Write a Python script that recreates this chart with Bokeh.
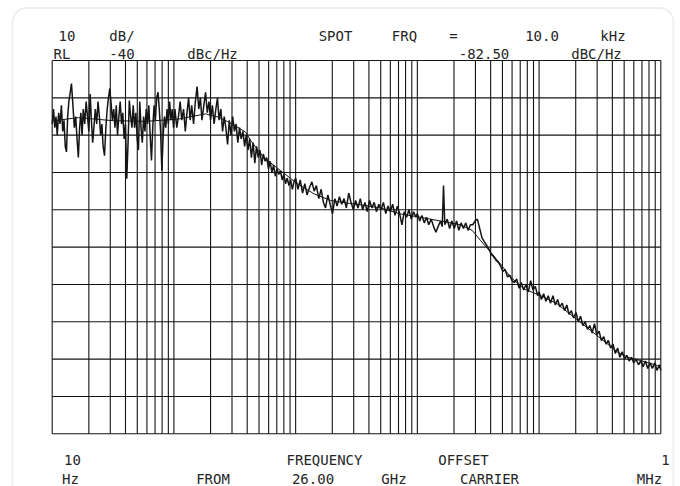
from bokeh.plotting import figure
from bokeh.models import BoxAnnotation, Range1d
from bokeh.core.properties import value
from bokeh.embed import file_html
from bokeh.resources import INLINE

# ---------------- data ----------------
# raw (noisy) phase-noise trace: offset frequency in Hz, level in dBc/Hz
noise_freq = [
    # 10 Hz - 100 Hz
    10.0, 10.25, 10.5, 10.75, 11.0, 11.3, 11.6, 11.9, 12.2, 12.5, 12.8, 13.1, 13.4,
    13.7, 14.0, 14.4, 14.8, 15.2, 15.6, 16.0, 16.4, 16.8, 17.2, 17.6, 18.0, 18.5,
    19.0, 19.5, 20.0, 20.5, 21.0, 21.5, 22.0, 22.6, 23.2, 23.8, 24.4, 25.0, 25.6,
    26.2, 26.9, 27.6, 28.3, 29.0, 29.7, 30.4, 31.2, 32.0, 32.8, 33.6, 34.4, 35.3,
    36.2, 37.1, 38.0, 39.0, 40.0, 41.0, 42.0, 43.0, 44.1, 45.2, 46.3, 47.5, 48.7,
    49.9, 51.1, 52.4, 53.7, 55.0, 56.4, 57.8, 59.2, 60.7, 62.2, 63.8, 65.4, 67.0,
    68.7, 70.4, 72.2, 74.0, 75.8, 77.7, 79.6, 81.6, 83.6, 85.7, 87.8, 90.0, 92.2,
    94.5, 96.9, 99.3,
    # 100 Hz - 1 kHz
    102, 105.5, 109, 112.5, 116, 120, 124, 128, 132, 136, 140, 145, 150, 155, 160,
    165, 170, 176, 182, 188, 194, 200, 207, 214, 221, 228, 235, 243, 251, 259, 267,
    276, 285, 294, 304, 314, 324, 335, 346, 357, 369, 381, 393, 406, 419, 433, 447,
    462, 477, 493, 509, 526, 543, 561, 579, 598, 618, 638, 659, 681, 703, 726, 750,
    775, 800, 826, 853, 881, 910, 940, 970,
    # 1 kHz - 10 kHz
    1000, 1045, 1090, 1140, 1190, 1240, 1300, 1360, 1420, 1480, 1550, 1620, 1690,
    1760, 1840, 1920, 2010, 2100, 2190, 2290, 2390, 2500, 2610, 2730, 2850, 2980,
    3110, 3250, 3400, 3550, 3710, 3870, 4050, 4230, 4420, 4610, 4820, 5040, 5260,
    5500, 5740, 6000, 6270, 6550, 6850, 7150, 7470, 7810, 8160, 8530, 8910, 9310,
    9730,
    # 10 kHz - 100 kHz
    10000, 10450, 10900, 11400, 11900, 12400, 13000, 13600, 14200, 14800, 15500,
    16000, 16400, 16800, 17600, 18400, 19200, 20100, 21000, 21900, 22900, 23900,
    25000, 26100, 27300, 28500, 29800, 31100, 32500, 34000, 35500, 37100, 38700,
    40500, 42300, 44200, 46100, 48200, 50400, 52600, 55000, 57400, 60000, 62700,
    65500, 68500, 71500, 74700, 78100, 81600, 85300, 89100, 93100, 97300,
    # 100 kHz - 1 MHz
    100000, 104500, 109000, 114000, 119000, 124000, 130000, 136000, 142000, 148000,
    155000, 162000, 169000, 176000, 184000, 192000, 201000, 210000, 219000, 229000,
    239000, 250000, 261000, 273000, 285000, 298000, 311000, 325000, 340000, 355000,
    371000, 387000, 405000, 423000, 442000, 461000, 482000, 504000, 526000, 550000,
    574000, 600000, 627000, 655000, 685000, 715000, 747000, 781000, 816000, 853000,
    891000, 931000, 973000, 1000000,
]
noise_db = [
    # 10 Hz - 100 Hz
    -57, -53, -58, -55, -60, -54, -57, -52, -59, -56, -63, -64.5, -55,
    -51, -49, -46.2, -52, -58, -55, -61, -66, -58, -54, -60, -53, -57,
    -51, -55, -59, -49, -56, -62, -58, -53, -57, -51, -55, -60, -57,
    -63, -65.5, -58, -53, -50, -47.5, -51, -56, -53, -58, -52, -60, -55,
    -51, -57, -54, -61, -57, -71.7, -62, -50.7, -55, -58, -52, -58, -54,
    -61, -64, -51, -58, -62, -55, -59, -53, -57, -52, -60, -66.8, -58,
    -52, -56, -50, -48.5, -53, -59, -69.5, -60, -55, -58, -53, -57, -51,
    -56, -53, -58,
    # 100 Hz - 1 kHz
    -53, -58, -55, -51, -56, -53, -59, -54, -50, -56, -52, -57, -51, -47, -53,
    -50, -56, -52, -48.5, -54, -51, -56, -52, -57, -53, -50, -56, -53, -59, -55, -58,
    -62.5, -56, -60, -55, -59, -57, -62, -58, -61, -59, -63, -60, -64, -61, -66, -62,
    -67.5, -63, -66, -64, -68, -65, -67, -66, -69, -67, -70, -68, -71, -69, -70.5, -69.5,
    -72, -70.5, -73, -71.5, -73.5, -72, -74.5, -72.5,
    # 1 kHz - 10 kHz
    -71.5, -74.5, -72, -75.5, -73, -76, -74, -72.5, -75, -73.5, -77, -74.5, -78,
    -79.5, -76, -78.5, -81, -77, -79, -76.5, -78.5, -77, -79.5, -75.5, -78, -80,
    -77.5, -79.5, -77, -80, -78, -80.5, -77.5, -79.5, -78, -80.5, -78.5, -80, -78,
    -81, -79, -80.5, -78.5, -81.5, -79, -81, -84, -80.5, -82, -80, -82.5, -80.5,
    -82,
    # 10 kHz - 100 kHz
    -81, -83, -81.5, -83.5, -82, -84, -82.5, -84.5, -86, -84.5, -83,
    -84.5, -73.5, -84, -82.5, -85, -83, -85, -83, -85.5, -83.5, -85,
    -83.5, -85.5, -84, -84, -83, -82.5, -85, -87.5, -88.5, -89.5, -90.5,
    -92, -92.5, -93.5, -94, -95, -96.5, -96, -98, -97.5, -99, -99.5,
    -98.5, -101, -99.5, -101.5, -100, -102, -99, -101.5, -100.5, -103,
    # 100 kHz - 1 MHz
    -102, -104, -102.5, -104.5, -103, -105, -103, -105.5, -104, -106,
    -105, -107, -105.5, -108, -107, -109, -107.5, -110, -108.5, -111,
    -110, -112, -111, -113, -110.5, -113.5, -112.5, -115, -114, -116,
    -115, -117, -116, -118.5, -117, -119.5, -118, -120, -119, -120.5,
    -119.5, -121, -120, -121.5, -120.5, -122, -120.5, -122.5, -121, -122.5,
    -121, -123, -121.5, -123,
]

# smoothed trace
smooth_freq = [10, 16.4, 31, 58.5, 109, 182, 233, 303, 388, 428, 548, 752, 1033,
               1413, 1937, 2660, 3640, 4990, 7260, 10600, 15500, 22600, 28200,
               33000, 39900, 48200, 58200, 75200, 103000, 141000, 194000, 265000,
               364000, 440000, 532000, 686000, 940000, 1000000]
smooth_db = [-56.2, -55.3, -56.1, -56.3, -55.7, -54.3, -55.2, -57, -59.2, -61.5,
             -66, -69.5, -73, -75.7, -77.5, -78.2, -78.8, -79.5, -81.1, -82,
             -83, -84, -85.5, -88.2, -91.3, -94.5, -98, -101.2, -103, -105.2,
             -108.8, -112.3, -115.9, -118.1, -119.5, -120.4, -121.7, -122]

# grid / scale values (10 Hz .. 1 MHz, -140 .. -40 dBc/Hz)
x_decades = [10, 100, 1000, 10000, 100000, 1000000]
x_minor = [m * d for d in x_decades[:-1] for m in range(2, 10)]
y_levels = [-140, -130, -120, -110, -100, -90, -80, -70, -60, -50, -40]

# annotation texts (words printed by the instrument)
top_line1 = ["10", "dB/", "SPOT", "FRQ", "=", "10.0", "kHz"]
top_line2 = ["RL", "-40", "dBc/Hz", "-82.50", "dBC/Hz"]
bottom_line1 = ["10", "FREQUENCY", "OFFSET", "1"]
bottom_line2 = ["Hz", "FROM", "26.00", "GHz", "CARRIER", "MHz"]

# ---------------- layout ----------------
W, H = 680, 486
PX_LEFT, PX_RIGHT, PY_TOP, PY_BOTTOM = 51.7, 660.3, 60.0, 433.3
DEC_PX = (PX_RIGHT - PX_LEFT) / (len(x_decades) - 1)
DB_PX = (PY_BOTTOM - PY_TOP) / (y_levels[-1] - y_levels[0])


def xd(px):
    """page pixel -> frequency"""
    return x_decades[0] * 10 ** ((px - PX_LEFT) / DEC_PX)


def yd(py):
    """page pixel -> dB"""
    return y_levels[-1] - (py - PY_TOP) / DB_PX


# word centres (page px) and baselines
top1_x = [66.5, 121.5, 335, 404, 453, 541.5, 612.5]
top2_x = [61.5, 121.5, 212, 483.5, 596]
bot1_x = [72, 324, 463, 665]
bot2_x = [70, 212.5, 312.5, 393.5, 489, 649]
BASE_TOP1, BASE_TOP2, BASE_BOT1, BASE_BOT2 = 35.5, 53.5, 459.5, 478.0

p = figure(
    width=W, height=H, x_axis_type="log",
    x_range=Range1d(xd(0), xd(W)), y_range=Range1d(yd(H), yd(0)),
    min_border=0, min_border_left=0, min_border_right=0,
    min_border_top=0, min_border_bottom=0,
    output_backend="svg", toolbar_location=None,
    background_fill_color="white", border_fill_color="white",
)
p.axis.visible = False
p.grid.visible = False
p.outline_line_color = None

GRID = "#141414"
# vertical grid lines (log minor + decades) and horizontal 10 dB lines
xs_all = sorted(x_decades + x_minor)
p.segment(x0=xs_all, x1=xs_all, y0=[y_levels[0]] * len(xs_all), y1=[y_levels[-1]] * len(xs_all),
          line_color=GRID, line_width=1.1)
p.segment(x0=[x_decades[0]] * len(y_levels), x1=[x_decades[-1]] * len(y_levels),
          y0=y_levels, y1=y_levels, line_color=GRID, line_width=1.1)

p.line(noise_freq, noise_db, line_color="#141414", line_width=1.5)
p.line(smooth_freq, smooth_db, line_color="#141414", line_width=1)

# light rounded outer frame
p.add_layout(BoxAnnotation(
    left=xd(12), right=xd(673), top=yd(7.5), bottom=yd(520),
    fill_alpha=0, line_color="#c9c9c9", line_width=2, border_radius=14,
))

words = top_line1 + top_line2 + bottom_line1 + bottom_line2
wx = top1_x + top2_x + bot1_x + bot2_x
wy = ([BASE_TOP1] * len(top_line1) + [BASE_TOP2] * len(top_line2)
      + [BASE_BOT1] * len(bottom_line1) + [BASE_BOT2] * len(bottom_line2))
p.text(x=[xd(v) for v in wx], y=[yd(v) for v in wy], text=words,
       text_font=value("DejaVu Sans Mono"), text_font_size="14px",
       text_align="center", text_baseline="alphabetic", text_color="#262626")

open("out.html", "w").write(file_html(p, INLINE))
